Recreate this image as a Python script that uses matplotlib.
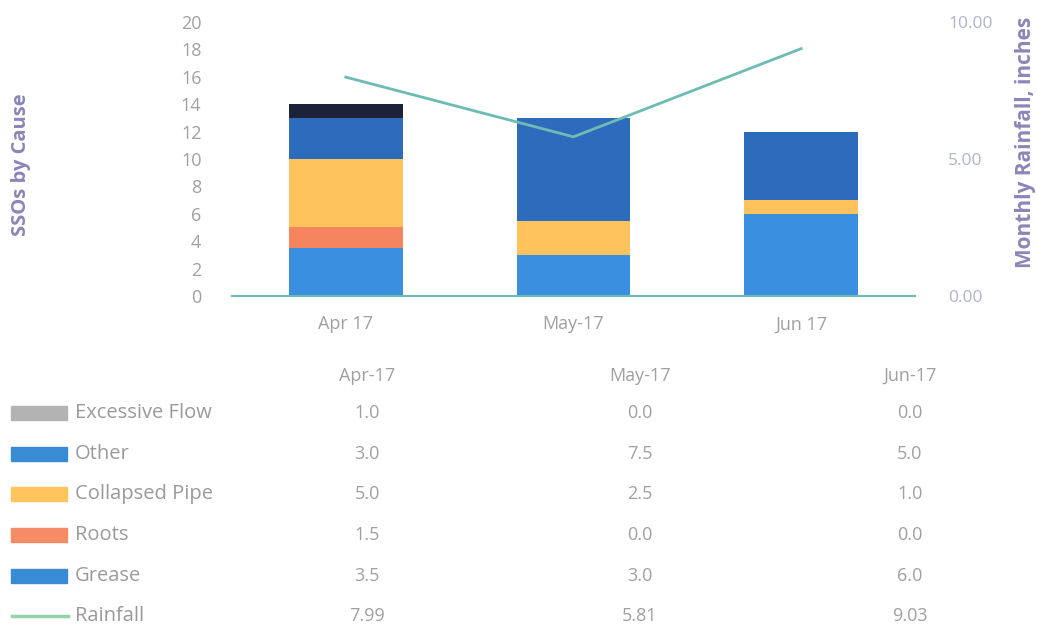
import matplotlib.pyplot as plt
from matplotlib.patches import Rectangle
from matplotlib.lines import Line2D

# data
months = ["Apr-17", "May-17", "Jun-17"]
causes = ["Excessive Flow", "Other", "Collapsed Pipe", "Roots", "Grease"]
excessive = [1.0, 0.0, 0.0]
other = [3.0, 7.5, 5.0]
collapsed = [5.0, 2.5, 1.0]
roots = [1.5, 0.0, 0.0]
grease = [3.5, 3.0, 6.0]
rainfall = [7.99, 5.81, 9.03]

# colours (bar, legend swatch)
bar_cols = {"Excessive Flow": "#1c2238", "Other": "#2d6cbd", "Collapsed Pipe": "#ffc35e",
            "Roots": "#f5845f", "Grease": "#3b8fe0"}
leg_cols = {"Excessive Flow": "#b3b3b3", "Other": "#3a8bd6", "Collapsed Pipe": "#ffc55c",
            "Roots": "#f68c64", "Grease": "#3a8bd6"}
line_col = "#6dbcb4"
tick_col = "#a0a0a0"
lab_col = "#8a86b8"

plt.rcParams['font.family'] = ['Open Sans', 'DejaVu Sans']

fig = plt.figure(figsize=(10.37, 6.31), dpi=100)
ax = fig.add_axes([0.2237, 0.531, 0.6586, 0.434])

x = list(range(len(months)))
series = {"Grease": grease, "Roots": roots, "Collapsed Pipe": collapsed,
          "Other": other, "Excessive Flow": excessive}
bottom = [0, 0, 0]
for name in ["Grease", "Roots", "Collapsed Pipe", "Other", "Excessive Flow"]:
    vals = series[name]
    ax.bar(x, vals, 0.5, bottom=bottom, color=bar_cols[name], zorder=2)
    bottom = [b + v for b, v in zip(bottom, vals)]

ax.set_xlim(-0.5, 2.5)
ax.set_ylim(0, 20)
ax.set_yticks(range(0, 21, 2))
ax.set_xticks(x)
ax.set_xticklabels(["Apr 17", "May-17", "Jun 17"])
for s in ["top", "right", "left"]:
    ax.spines[s].set_visible(False)
ax.spines["bottom"].set_color(line_col)
ax.spines["bottom"].set_linewidth(1.5)
ax.tick_params(axis="both", length=0, colors=tick_col, labelsize=13)
ax.tick_params(axis="y", pad=22)
ax.tick_params(axis="x", pad=14)
ax.set_ylabel("SSOs by Cause", color=lab_col, fontsize=14.5, fontweight="bold")
ax.yaxis.set_label_coords(-0.294, 0.478)

ax2 = ax.twinx()
ax2.plot(x, rainfall, color=line_col, lw=2, zorder=3)
ax2.set_ylim(0, 10)
ax2.set_yticks([0, 5, 10])
ax2.set_yticklabels(["0.00", "5.00", "10.00"])
for s in ax2.spines.values():
    s.set_visible(False)
ax2.tick_params(axis="y", length=0, colors="#b0b4c8", labelsize=12.5, pad=24)
ax2.set_ylabel("Monthly Rainfall, inches", color=lab_col, fontsize=15, fontweight="bold")
ax2.yaxis.set_label_coords(1.146, 0.56)

# data table below the chart
W, H = 1037, 631
col_x = [367, 640, 910]
for cx, m in zip(col_x, months):
    fig.text(cx / W, 1 - 376 / H, m, ha="center", va="center", color=tick_col, fontsize=13)

rows = [("Excessive Flow", excessive, "{:.1f}"), ("Other", other, "{:.1f}"),
        ("Collapsed Pipe", collapsed, "{:.1f}"), ("Roots", roots, "{:.1f}"),
        ("Grease", grease, "{:.1f}"), ("Rainfall", rainfall, "{:.2f}")]
row_y = [413, 454, 494, 535, 576, 616]
for (name, vals, fmt), ry in zip(rows, row_y):
    yy = 1 - ry / H
    if name == "Rainfall":
        fig.add_artist(Line2D([12 / W, 68 / W], [yy, yy], color="#92d2a6", lw=2.5))
    else:
        fig.add_artist(Rectangle((11 / W, yy - 7 / H), 56 / W, 14 / H,
                                 color=leg_cols[name], transform=fig.transFigure))
    fig.text(75 / W, yy, name, ha="left", va="center", color="#9a9a9a", fontsize=14.5)
    for cx, v in zip(col_x, vals):
        fig.text(cx / W, yy, fmt.format(v), ha="center", va="center", color=tick_col, fontsize=13)

fig.savefig("out.png", dpi=100, facecolor="white")
